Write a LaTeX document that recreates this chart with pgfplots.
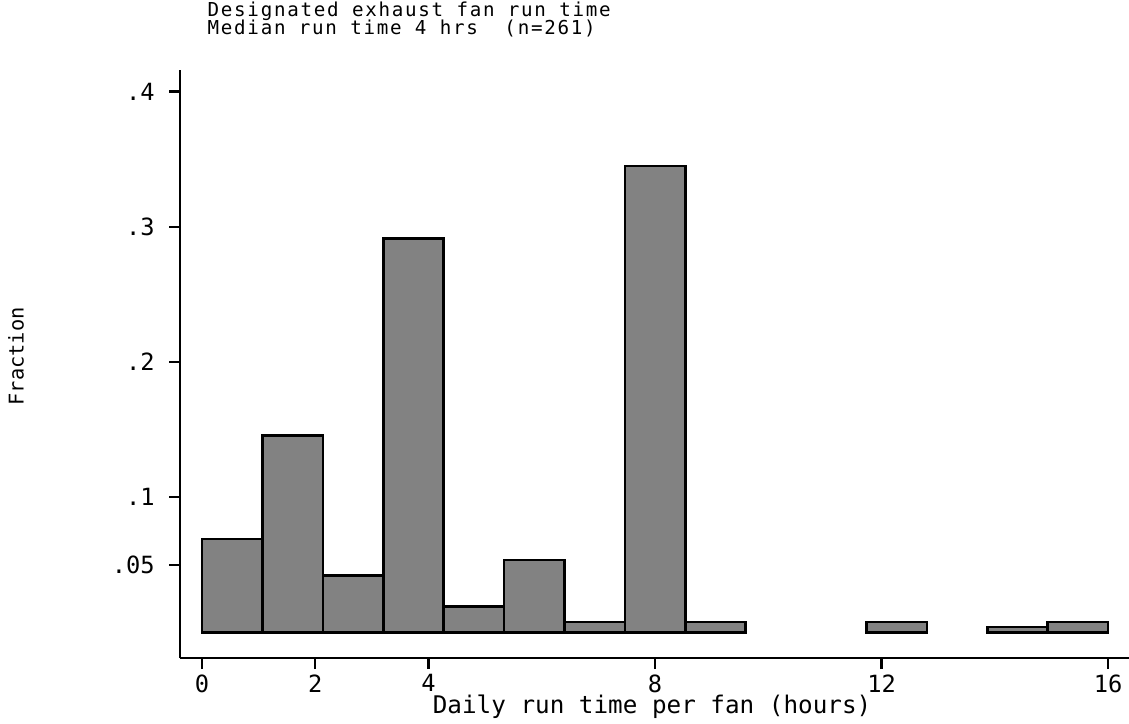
\documentclass[border=0pt]{standalone}
\usepackage{fontspec}
\setmainfont{DejaVu Sans Mono}
\usepackage{pgfplots}
\pgfplotsset{compat=1.18}
\usetikzlibrary{calc}
\definecolor{BarFill}{HTML}{828282}

\begin{document}
\begin{tikzpicture}
\begin{axis}[
  scale only axis,
  width=336.2pt, height=208.3pt,
  xmin=-0.389, xmax=16.37,
  ymin=-0.0192, ymax=0.4157,
  axis lines*=left,
  axis line style={black,line width=0.8pt},
  xtick={0,2,4,8,12,16},
  ytick={0.05,0.1,0.2,0.3,0.4},
  yticklabels={.05,.1,.2,.3,.4},
  tick align=outside,
  major tick length=3.9pt,
  tick style={black,line width=0.8pt},
  /pgf/number format/assume math mode=true,
  tick label style={font=\fontsize{8.4}{9}\selectfont},
  xticklabel style={yshift=1.6pt},
  yticklabel style={xshift=-1.6pt},
  clip=false,
]
% fraction of fans per bin (bin width 16/15 h), n=261
\addplot[ybar, bar width=1.0667, bar shift=0pt, draw=black, line width=0.9pt, fill=BarFill]
  coordinates {
  (0.5333,0.0690) (1.6000,0.1456) (2.6667,0.0421) (3.7333,0.2912)
  (4.8000,0.0192) (5.8667,0.0536) (6.9333,0.0077) (8.0000,0.3448)
  (9.0667,0.0077) (12.2667,0.0077) (14.4000,0.0038) (15.4667,0.0077)
  };
\coordinate (ll) at (rel axis cs:0,0);
\node[anchor=base west,inner sep=0pt,font=\fontsize{6.8}{7}\selectfont\addfontfeature{LetterSpace=9}]
  at (axis cs:0.088,0.4555) {Designated exhaust fan run time};
\node[anchor=base west,inner sep=0pt,font=\fontsize{6.8}{7}\selectfont\addfontfeature{LetterSpace=9}]
  at (axis cs:0.088,0.4425) {Median run time 4 hrs~~(n=261)};
\node[anchor=base,inner sep=0pt,font=\fontsize{8.6}{9}\selectfont]
  at (axis cs:7.947,-0.0599) {Daily run time per fan (hours)};
\node[rotate=90,anchor=center,inner sep=0pt,font=\fontsize{7.2}{8}\selectfont]
  at (axis cs:-3.285,0.2041) {Fraction};
\end{axis}
\pgfresetboundingbox
\path[use as bounding box] ($(ll)+(-63.8pt,-23.0pt)$) rectangle ++(400pt,256.2pt);
\end{tikzpicture}
\end{document}
